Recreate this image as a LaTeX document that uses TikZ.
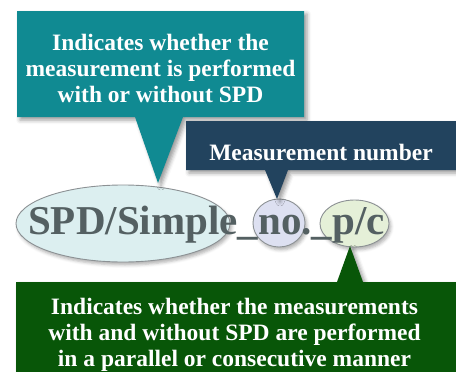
\documentclass[tikz,border=0pt]{standalone}
\usepackage{fontspec}
\setmainfont{Liberation Serif}
\usetikzlibrary{shapes.geometric,shadows.blur}

\definecolor{calloutteal}{RGB}{16,138,146}
\definecolor{calloutblue}{RGB}{34,67,94}
\definecolor{calloutgreen}{RGB}{8,86,8}
\definecolor{fieldtext}{RGB}{84,96,98}
\definecolor{fieldrim}{RGB}{140,145,148}
\definecolor{spdfill}{RGB}{220,239,240}
\definecolor{nofill}{RGB}{221,224,241}
\definecolor{pcfill}{RGB}{229,240,216}

\tikzset{
  callout/.style={blur shadow={shadow xshift=3pt, shadow yshift=-3pt,
      shadow blur radius=4pt, shadow opacity=40}},
  calltext/.style={text=white, align=center, inner sep=0pt,
      font=\bfseries\fontsize{23.5}{26}\selectfont},
  field/.style={ellipse, draw=fieldrim, line width=0.9pt, inner sep=0pt,
      blur shadow={shadow xshift=2pt, shadow yshift=-3pt,
      shadow blur radius=3pt, shadow opacity=30}},
  fieldname/.style={text=fieldtext, inner sep=0pt,
      font=\bfseries\fontsize{41}{45}\selectfont}
}

\begin{document}
\begin{tikzpicture}[x=1pt,y=-1pt]
\clip (0,0) rectangle (456,372);
\useasboundingbox (0,0) rectangle (456,372);

% the three fields of the name, highlighted
\node[field, fill=spdfill, minimum width=214pt, minimum height=77pt] (spd) at (123,223.5) {};
\node[field, fill=nofill, minimum width=52pt, minimum height=48pt] (num) at (279,223) {};
\node[field, fill=pcfill, minimum width=69pt, minimum height=47pt] (pc) at (354.5,223.5) {};

% the name itself
\node[fieldname, anchor=base west] (name) at (28,234) {SPD/Simple\_no.\_p/c};

% callout: SPD / Simple
\coordinate (tipspd) at (158,183);
\fill[calloutteal, callout] (17,11) -- (304,11) -- (304,117) -- (183,117)
  -- (tipspd) -- (135,117) -- (17,117) -- cycle;
\node[calltext] (spdnote) at (160.5,68)
  {Indicates whether the\\measurement is performed\\with or without SPD};

% callout: measurement number
\coordinate (tipnum) at (277,199);
\fill[calloutblue, callout] (186,121) -- (470,121) -- (470,170) -- (288,170)
  -- (tipnum) -- (265,170) -- (186,170) -- cycle;
\node[calltext] (numnote) at (321,152) {Measurement number};

% callout: parallel / consecutive
\coordinate (tippc) at (350,246);
\fill[calloutgreen, callout] (16,282) -- (337,282) -- (tippc) -- (363,282)
  -- (470,282) -- (470,390) -- (16,390) -- cycle;
\node[calltext] (pcnote) at (234.5,334.5)
  {Indicates whether the measurements\\with and without SPD are performed\\in a parallel or consecutive manner};
\end{tikzpicture}
\end{document}
